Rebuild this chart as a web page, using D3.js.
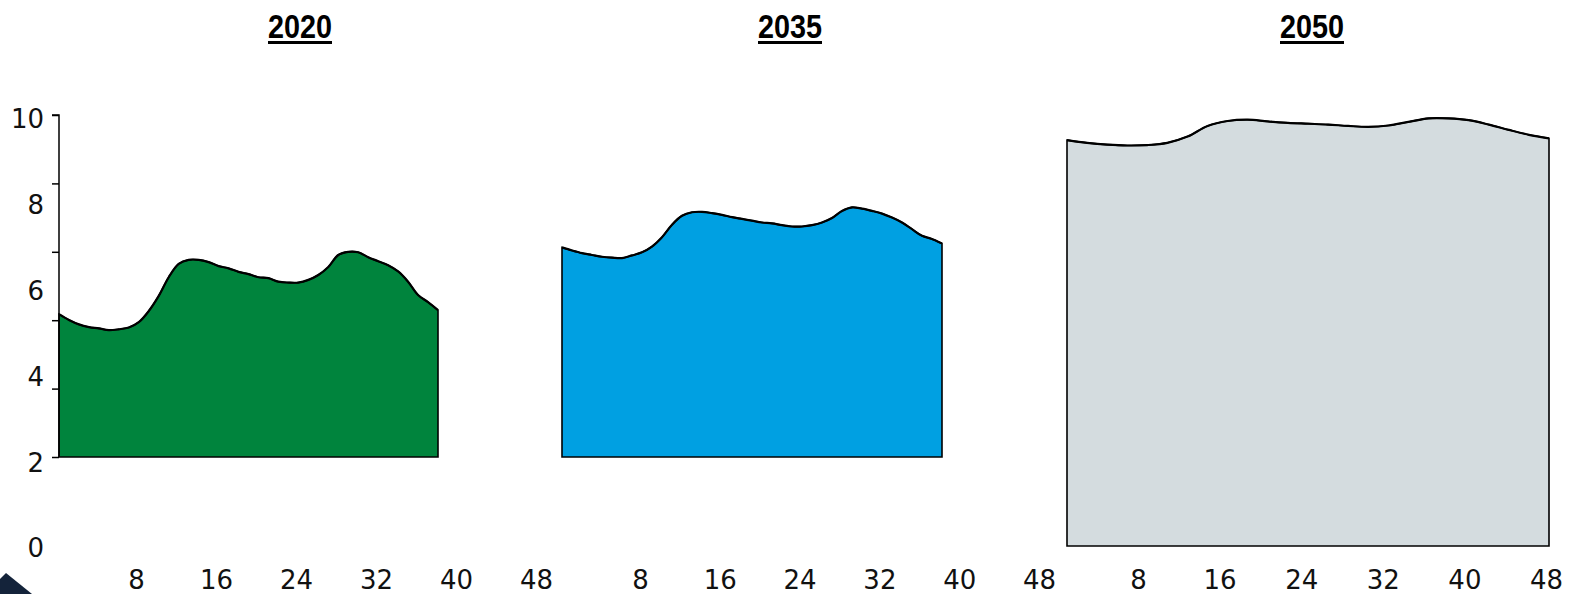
<!DOCTYPE html>
<html>
<head>
<meta charset="utf-8">
<script src="https://cdn.jsdelivr.net/npm/d3@7"></script>
<style>
  html, body { margin: 0; padding: 0; background: #ffffff; }
  svg { display: block; }
</style>
</head>
<body>
<svg id="chart" width="1569" height="594"></svg>
<script>
// ---------------- data ----------------
const panelTitles = ["2020", "2035", "2050"];
const xTickLabels = [8, 16, 24, 32, 40, 48];
const yTickValues = [0, 2, 4, 6, 8, 10];

// 2020 profile (values 0..38 along x)
const values2020 = [5.21, 5.08, 4.98, 4.92, 4.89, 4.85, 4.87, 4.91, 5.03, 5.28,
  5.62, 6.04, 6.34, 6.43, 6.43, 6.38, 6.29, 6.24, 6.16, 6.11,
  6.04, 6.02, 5.94, 5.92, 5.92, 5.98, 6.09, 6.27, 6.54, 6.61,
  6.60, 6.49, 6.40, 6.31, 6.17, 5.94, 5.64, 5.48, 5.30];
// 2035 profile
const values2035 = [6.71, 6.64, 6.58, 6.54, 6.50, 6.48, 6.47, 6.53, 6.60, 6.73,
  6.94, 7.22, 7.42, 7.50, 7.51, 7.48, 7.44, 7.39, 7.35, 7.31,
  7.27, 7.25, 7.21, 7.18, 7.18, 7.21, 7.27, 7.37, 7.53, 7.61,
  7.58, 7.53, 7.47, 7.38, 7.27, 7.12, 6.97, 6.90, 6.80];
// 2050 profile
const values2050 = [9.12, 9.06, 9.02, 9.00, 9.01, 9.06, 9.20, 9.44, 9.55, 9.58,
  9.54, 9.51, 9.49, 9.47, 9.44, 9.42, 9.45, 9.53, 9.61, 9.61,
  9.57, 9.47, 9.35, 9.24, 9.16];

const baselines = [2, 2, 0];
const fills = ["#00843d", "#00a0e2", "#d4dcdf"];

// ---------------- layout ----------------
const svg = d3.select("#chart");
const fontAxis = "'DejaVu Sans', Verdana, sans-serif";

const yMark = d3.scaleLinear().domain([0, 10]).range([546, 101]);
const yTick = d3.scaleLinear().domain([0, 10]).range([457, 115]);
const yLabel = d3.scaleLinear().domain([0, 10]).range([548, 119]);

const panels = [
  { title: panelTitles[0], values: values2020, base: baselines[0], fill: fills[0],
    xArea: d3.scaleLinear().domain([0, values2020.length - 1]).range([59, 438]),
    xLab: d3.scaleLinear().domain([8, 48]).range([136, 536]), titleX: 300 },
  { title: panelTitles[1], values: values2035, base: baselines[1], fill: fills[1],
    xArea: d3.scaleLinear().domain([0, values2035.length - 1]).range([562, 942]),
    xLab: d3.scaleLinear().domain([8, 48]).range([640, 1039]), titleX: 790 },
  { title: panelTitles[2], values: values2050, base: baselines[2], fill: fills[2],
    xArea: d3.scaleLinear().domain([0, values2050.length - 1]).range([1067, 1549]),
    xLab: d3.scaleLinear().domain([8, 48]).range([1138, 1546]), titleX: 1312 }
];

panels.forEach(p => {
  const pts = p.values.map((v, i) => [i, v]);
  const area = d3.area()
    .x(d => p.xArea(d[0]))
    .y0(yMark(p.base))
    .y1(d => yMark(d[1]))
    .curve(d3.curveCatmullRom.alpha(0.5));
  const line = d3.line()
    .x(d => p.xArea(d[0]))
    .y(d => yMark(d[1]))
    .curve(d3.curveCatmullRom.alpha(0.5));

  svg.append("path")
    .datum(pts)
    .attr("d", area)
    .attr("fill", p.fill)
    .attr("stroke", "#000")
    .attr("stroke-width", 1.6)
    .attr("stroke-linejoin", "miter");
  svg.append("path")
    .datum(pts)
    .attr("d", line)
    .attr("fill", "none")
    .attr("stroke", "#000")
    .attr("stroke-width", 2.2);

  // x tick labels
  const ax = d3.axisBottom(p.xLab).tickValues(xTickLabels).tickSize(0).tickPadding(0);
  const g = svg.append("g").attr("transform", "translate(0,571)").call(ax);
  g.select(".domain").remove();
  g.selectAll("text")
    .attr("font-family", fontAxis)
    .attr("font-size", 26)
    .attr("fill", "#111")
    .attr("dy", "0.71em");

  // title
  svg.append("text")
    .attr("x", p.titleX)
    .attr("y", 38)
    .attr("text-anchor", "middle")
    .attr("font-family", "'Liberation Sans Narrow', 'Liberation Sans', Arial, sans-serif")
    .attr("font-weight", "bold")
    .attr("font-size", 33)
    .attr("textLength", 64)
    .attr("lengthAdjust", "spacingAndGlyphs")
    .attr("fill", "#000")
    .text(p.title);
  svg.append("rect")
    .attr("x", p.titleX - 32)
    .attr("y", 41)
    .attr("width", 64)
    .attr("height", 3)
    .attr("fill", "#000");
});

// y axis (ticks)
const yAx = d3.axisLeft(yTick).tickValues(yTickValues).tickSize(7).tickFormat("");
const yg = svg.append("g").attr("transform", "translate(59,0)").call(yAx);
yg.select(".domain").attr("stroke", "#000").attr("stroke-width", 1.5)
  .attr("d", `M-7,${yTick(10)}H0V${yTick(0)}`);
yg.selectAll(".tick line").attr("stroke", "#000").attr("stroke-width", 1.5);

// y labels
svg.append("g").selectAll("text")
  .data(yTickValues)
  .join("text")
  .attr("x", 44)
  .attr("y", d => yLabel(d))
  .attr("dy", "0.36em")
  .attr("text-anchor", "end")
  .attr("font-family", fontAxis)
  .attr("font-size", 26)
  .attr("fill", "#111")
  .text(d => d);

// corner mark (bottom-left)
svg.append("path")
  .attr("d", "M0,579L6,573L32,594L0,594Z")
  .attr("fill", "#14233a");
</script>
</body>
</html>
